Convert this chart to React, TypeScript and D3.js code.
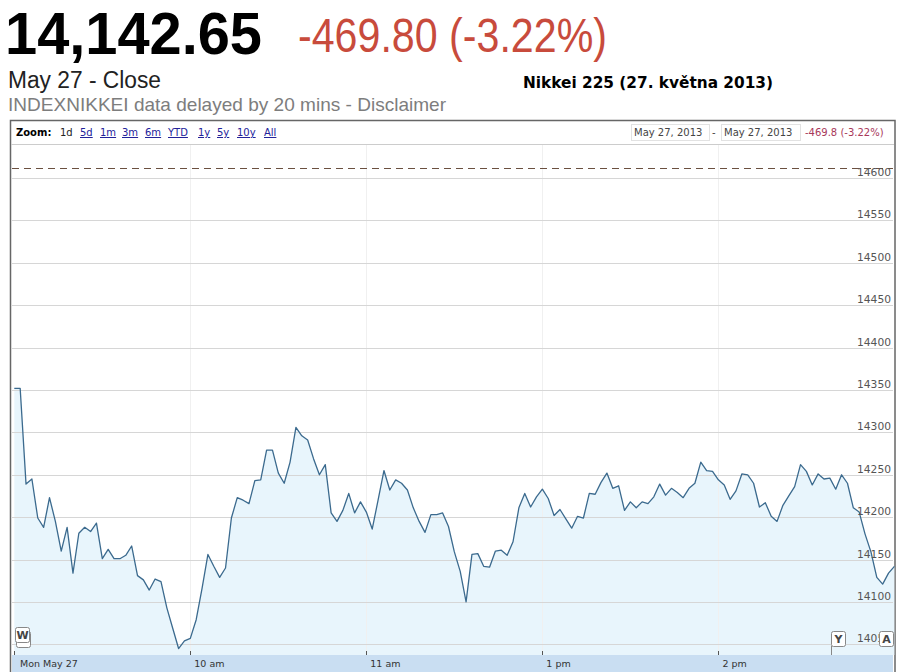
import * as d3 from "d3";
import { useEffect, useRef } from "react";

// Nikkei 225, 27 May 2013, one close every 2 trading minutes (lunch break removed)
const closeValues = [
  14352, 14352, 14239, 14245, 14199, 14188, 14223, 14195, 14160, 14188,
  14134, 14181, 14188, 14183, 14193, 14151, 14162, 14151, 14151, 14155,
  14166, 14131, 14126, 14114, 14127, 14124, 14093, 14069, 14045, 14054,
  14057, 14079, 14116, 14156, 14142, 14129, 14140, 14199, 14223, 14220,
  14216, 14243, 14244, 14279, 14279, 14252, 14240, 14265, 14306, 14296,
  14291, 14269, 14250, 14262, 14205, 14195, 14208, 14228, 14205, 14218,
  14206, 14186, 14220, 14255, 14232, 14244, 14240, 14232, 14211, 14195,
  14182, 14203, 14203, 14205, 14189, 14159, 14136, 14100, 14156, 14157,
  14142, 14141, 14160, 14161, 14155, 14171, 14211, 14228, 14212, 14224,
  14233, 14222, 14202, 14209, 14198, 14187, 14201, 14199, 14228, 14227,
  14241, 14252, 14234, 14237, 14208, 14218, 14211, 14218, 14216, 14224,
  14239, 14226, 14234, 14229, 14223, 14234, 14240, 14265, 14255, 14254,
  14244, 14238, 14221, 14231, 14251, 14250, 14240, 14212, 14217, 14201,
  14195, 14214, 14225, 14236, 14262, 14254, 14238, 14251, 14245, 14246,
  14233, 14250, 14240, 14211, 14206, 14180, 14159, 14129, 14121, 14134,
  14142,
];
const xTickIndex = [0, 30, 60, 90, 120];
const xTickLabels = ["Mon May 27", "10 am", "11 am", "1 pm", "2 pm"];
const yTicks = [14050, 14100, 14150, 14200, 14250, 14300, 14350, 14400, 14450, 14500, 14550, 14600];
const prevClose = 14612.45;
const zoomLinks = ["1d", "5d", "1m", "3m", "6m", "YTD", "1y", "5y", "10y", "All"];
const zoomLinkX = [60, 80, 100, 122, 145, 168, 198, 217, 237, 264];

const W = 897;
const H = 672;

const App = () => {
  const ref = useRef<SVGSVGElement | null>(null);

  useEffect(() => {
    if (!ref.current) return;
    const svg = d3.select(ref.current);
    svg.selectAll("*").remove();

    const x = d3.scaleLinear().domain([0, closeValues.length - 1]).range([14.3, 894.4]);
    const y = d3.scaleLinear().domain([14050, 14600]).range([644.3, 178.1]);
    const plotTop = 145;
    const plotBottom = 655;
    const plotRight = 893;

    // header
    const head = svg.append("g").attr("font-family", "'Liberation Sans', Arial, sans-serif");
    head.append("text").attr("x", 5).attr("y", 54).attr("font-size", 60).attr("font-weight", "bold")
      .attr("textLength", 257).attr("lengthAdjust", "spacingAndGlyphs").text("14,142.65");
    head.append("text").attr("x", 298).attr("y", 52).attr("font-size", 48).attr("fill", "#c84b3c")
      .attr("textLength", 309).attr("lengthAdjust", "spacingAndGlyphs").text("-469.80 (-3.22%)");
    head.append("text").attr("x", 8).attr("y", 88).attr("font-size", 23).attr("fill", "#222")
      .attr("textLength", 153).attr("lengthAdjust", "spacingAndGlyphs").text("May 27 - Close");
    head.append("text").attr("x", 8).attr("y", 111).attr("font-size", 19).attr("fill", "#7d7d7d")
      .attr("textLength", 438).attr("lengthAdjust", "spacingAndGlyphs")
      .text("INDEXNIKKEI data delayed by 20 mins - Disclaimer");
    head.append("text").attr("x", 523).attr("y", 88).attr("font-size", 16).attr("font-weight", "bold")
      .attr("font-family", "'DejaVu Sans', Verdana, sans-serif")
      .attr("textLength", 250).attr("lengthAdjust", "spacingAndGlyphs").text("Nikkei 225 (27. května 2013)");

    // frame
    svg.append("rect").attr("x", 10.5).attr("y", 120.5).attr("width", 884.5).attr("height", 560)
      .attr("fill", "#fff").attr("stroke", "#666").attr("stroke-width", 1.5);
    svg.append("line").attr("x1", 11).attr("x2", 894).attr("y1", 144.5).attr("y2", 144.5).attr("stroke", "#ccc");

    // zoom bar
    const bar = svg.append("g").attr("font-family", "'DejaVu Sans', Verdana, sans-serif").attr("font-size", 10);
    bar.append("text").attr("x", 16).attr("y", 136).attr("font-weight", "bold").text("Zoom:");
    zoomLinks.forEach((z, i) => {
      bar.append("text").attr("x", zoomLinkX[i]).attr("y", 136)
        .attr("fill", i === 0 ? "#222" : "#22229a")
        .attr("text-decoration", i === 0 ? "none" : "underline").text(z);
    });
    const boxes = [
      { x: 631, w: 78 },
      { x: 721, w: 79 },
    ];
    boxes.forEach((b) => {
      bar.append("rect").attr("x", b.x + 0.5).attr("y", 124.5).attr("width", b.w).attr("height", 16)
        .attr("fill", "#fff").attr("stroke", "#e2e2e2");
      bar.append("text").attr("x", b.x + 3).attr("y", 136).attr("fill", "#444").text("May 27, 2013");
    });
    bar.append("text").attr("x", 712).attr("y", 136).attr("fill", "#444").text("-");
    bar.append("text").attr("x", 805).attr("y", 136).attr("fill", "#a8385a").text("-469.8 (-3.22%)");

    // grid
    const grid = svg.append("g");
    grid.selectAll("line.v").data(xTickIndex.slice(1)).join("line")
      .attr("x1", (d) => Math.round(x(d)) + 0.5).attr("x2", (d) => Math.round(x(d)) + 0.5)
      .attr("y1", plotTop).attr("y2", plotBottom).attr("stroke", "#f0f0f0");
    grid.selectAll("line.h").data(yTicks).join("line")
      .attr("x1", 12).attr("x2", plotRight)
      .attr("y1", (d) => Math.round(y(d)) + 0.5).attr("y2", (d) => Math.round(y(d)) + 0.5)
      .attr("stroke", "#d6d6d6");

    // area + line
    const area = d3.area<number>().x((_, i) => x(i)).y0(plotBottom).y1((d) => y(d));
    const line = d3.line<number>().x((_, i) => x(i)).y((d) => y(d));
    svg.append("path").attr("d", area(closeValues)).attr("fill", "#e6f4fc").attr("fill-opacity", 0.9);
    grid.raise();
    svg.append("path").attr("d", line(closeValues)).attr("fill", "none")
      .attr("stroke", "#3b6a8e").attr("stroke-width", 1.3).attr("stroke-linejoin", "round");

    // previous close
    svg.append("line").attr("x1", 12).attr("x2", plotRight)
      .attr("y1", Math.round(y(prevClose)) + 0.5).attr("y2", Math.round(y(prevClose)) + 0.5)
      .attr("stroke", "#6b5040").attr("stroke-dasharray", "7,5");

    // y labels
    svg.append("g").attr("font-family", "'DejaVu Sans', Verdana, sans-serif").attr("font-size", 10.7)
      .attr("fill", "#555").attr("text-anchor", "end")
      .selectAll("text").data(yTicks).join("text")
      .attr("x", 891).attr("y", (d) => y(d) - 2).text((d) => d);

    // x band
    svg.append("rect").attr("x", 12).attr("y", plotBottom).attr("width", plotRight - 12).attr("height", H - plotBottom)
      .attr("fill", "#c9def2");
    const xa = svg.append("g").attr("font-family", "'DejaVu Sans', Verdana, sans-serif").attr("font-size", 9.5).attr("fill", "#333");
    xa.selectAll("line").data(xTickIndex).join("line")
      .attr("x1", (d) => Math.round(x(d)) + 0.5).attr("x2", (d) => Math.round(x(d)) + 0.5)
      .attr("y1", plotBottom - 4).attr("y2", plotBottom).attr("stroke", "#555");
    xa.selectAll("text").data(xTickIndex).join("text")
      .attr("x", (d, i) => (i === 0 ? 20 : x(d) + 4)).attr("y", 666.5)
      .text((_, i) => xTickLabels[i]);

    // flags
    const flags = [
      { label: "W", x: 15, y: 627 },
      { label: "Y", x: 831, y: 631 },
      { label: "A", x: 879, y: 631 },
    ];
    const fg = svg.append("g").attr("font-family", "'DejaVu Sans', Verdana, sans-serif").attr("font-size", 11)
      .attr("font-weight", "bold").attr("fill", "#444");
    flags.forEach((f) => {
      if (f.label === "W") {
        fg.append("rect").attr("x", f.x + 1.5).attr("y", f.y + 4.5).attr("width", 14).attr("height", 16)
          .attr("fill", "#fff").attr("stroke", "#888").attr("rx", 2);
      }
      if (f.label === "Y") {
        fg.append("line").attr("x1", f.x + 0.5).attr("x2", f.x + 0.5).attr("y1", f.y + 15).attr("y2", plotBottom)
          .attr("stroke", "#888");
      }
      fg.append("rect").attr("x", f.x + 0.5).attr("y", f.y + 0.5).attr("width", 14).attr("height", 15)
        .attr("fill", "#fff").attr("stroke", "#888").attr("rx", 2);
      fg.append("text").attr("x", f.x + 7.5).attr("y", f.y + 12).attr("text-anchor", "middle").text(f.label);
    });
  }, []);

  return (
    <svg
      ref={ref}
      width={W}
      height={H}
      style={{ position: "absolute", left: 0, top: 0, display: "block", background: "#fff" }}
    />
  );
};

export default App;
